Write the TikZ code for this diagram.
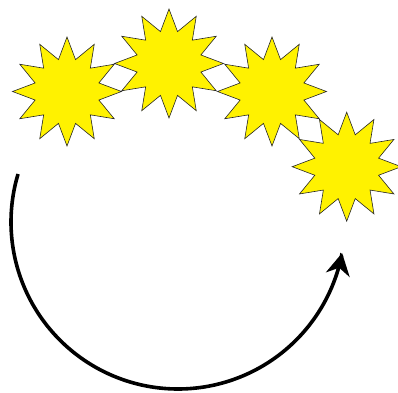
\documentclass[tikz,border=0pt]{standalone}
\usetikzlibrary{arrows.meta}
\begin{document}
\begin{tikzpicture}[x=1pt,y=-1pt,
  starfill/.style={fill=yellow, draw=black!85, line width=0.6pt, even odd rule, line join=miter},
  bigarrow/.style={line width=3.6pt, -{Stealth[length=22pt,width=24pt,inset=7pt]}}]
\useasboundingbox (0,0) rectangle (398,392);
% stars drawn as one path, so overlapping tips are left white (even odd rule)
\path[starfill]
  \foreach \cx/\cy in {67/91.5,169/63.5,272/91.5,346.7/166.7} {
    ({\cx+54.5},\cy)
    \foreach \k in {0,...,11} {
      -- ({\cx+33*cos(30*\k+15)},{\cy+33*sin(30*\k+15)})
      -- ({\cx+54.5*cos(30*\k+30)},{\cy+54.5*sin(30*\k+30)})
    } -- cycle
  };
% curved arrow
\coordinate (c) at (178,222);
\draw[bigarrow] plot[domain=196.7:10.7, samples=120, smooth]
  ({178+167*cos(\x)},{222+167*sin(\x)});
\end{tikzpicture}
\end{document}
